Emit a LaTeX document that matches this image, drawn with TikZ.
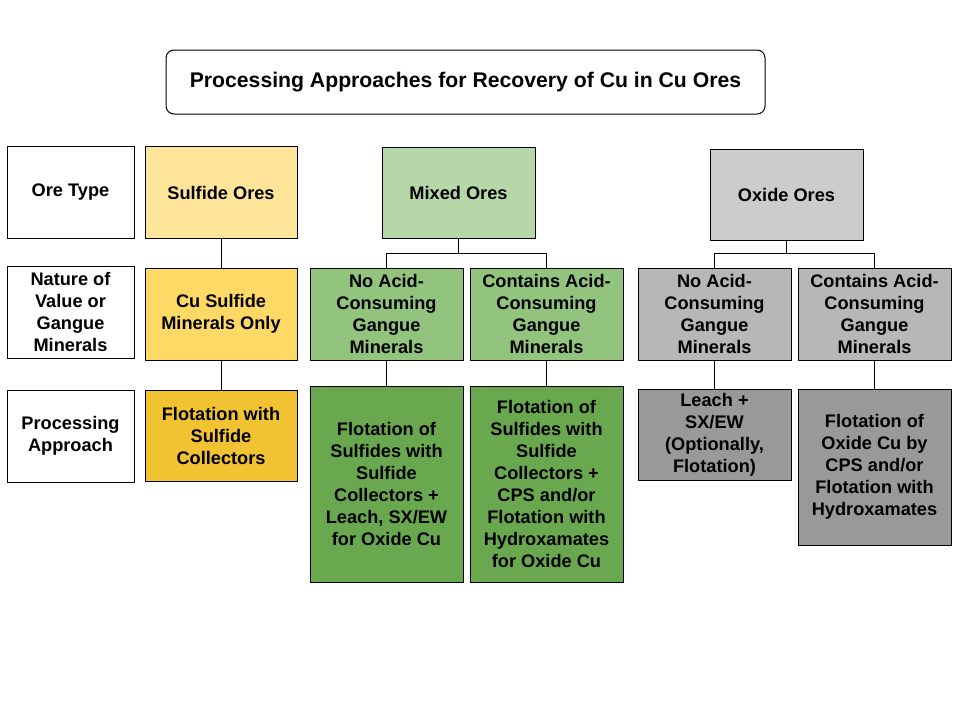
\documentclass[tikz,border=0pt]{standalone}
\usepackage{fontspec}
\setmainfont{Liberation Sans}
\definecolor{sulfFill}{HTML}{FFE599}
\definecolor{sulfMid}{HTML}{FFD966}
\definecolor{sulfDark}{HTML}{F1C232}
\definecolor{mixFill}{HTML}{B6D7A8}
\definecolor{mixMid}{HTML}{93C47D}
\definecolor{mixDark}{HTML}{6AA84F}
\definecolor{oxFill}{HTML}{CCCCCC}
\definecolor{oxMid}{HTML}{B7B7B7}
\definecolor{oxDark}{HTML}{999999}

\begin{document}
\begin{tikzpicture}[
  x=1pt,y=-1pt,
  font=\bfseries\fontsize{18.2}{22}\selectfont,
  box/.style={rectangle,draw=black,line width=1pt,inner sep=1pt,align=center,minimum width=153pt,minimum height=92pt},
  rowlabel/.style={box,fill=white,minimum width=127pt},
  sulfide/.style={box,fill=#1,minimum width=152pt},
  mixed/.style={box,fill=#1},
  oxide/.style={box,fill=#1},
  link/.style={line width=1pt,draw=black}
]
\useasboundingbox (0,0) rectangle (960,720);
% title
\node[box,rounded corners=8pt,fill=white,minimum width=599pt,minimum height=64pt,font=\bfseries\fontsize{21.2}{25}\selectfont] (title) at (465.5,82) {Processing Approaches for Recovery of Cu in Cu Ores};

% row labels
\node[rowlabel] (oretype) at (70.5,192.5) {Ore Type};
\node[rowlabel] (nature) at (70.5,312) {Nature of\\Value or\\Gangue\\Minerals};
\node[rowlabel] (approach) at (70.5,436) {Processing\\Approach};

% sulfide column
\node[sulfide=sulfFill] (sulf) at (221,192.5) {Sulfide Ores};
\node[sulfide=sulfMid] (sulfmin) at (221,314) {Cu Sulfide\\Minerals Only};
\node[sulfide=sulfDark,minimum height=91pt] (sulfflot) at (221,435.5) {Flotation with\\Sulfide\\Collectors};

% mixed column
\node[mixed=mixFill,minimum height=91pt] (mix) at (458.5,192.5) {Mixed Ores};
\node[mixed=mixMid] (mixnoacid) at (386.5,314) {No Acid-\\Consuming\\Gangue\\Minerals};
\node[mixed=mixMid] (mixacid) at (546.5,314) {Contains Acid-\\Consuming\\Gangue\\Minerals};
\node[mixed=mixDark,minimum height=196pt] (mixflot) at (386.5,484) {Flotation of\\Sulfides with\\Sulfide\\Collectors +\\Leach, SX/EW\\for Oxide Cu};
\node[mixed=mixDark,minimum height=196pt] (mixcps) at (546.5,484) {Flotation of\\Sulfides with\\Sulfide\\Collectors +\\CPS and/or\\Flotation with\\Hydroxamates\\for Oxide Cu};

% oxide column
\node[oxide=oxFill,minimum height=91pt] (ox) at (786.5,194.5) {Oxide Ores};
\node[oxide=oxMid] (oxnoacid) at (714.5,314) {No Acid-\\Consuming\\Gangue\\Minerals};
\node[oxide=oxMid] (oxacid) at (874.5,314) {Contains Acid-\\Consuming\\Gangue\\Minerals};
\node[oxide=oxDark,minimum height=91pt] (oxleach) at (714.5,434.5) {Leach +\\SX/EW\\(Optionally,\\Flotation)};
\node[oxide=oxDark,minimum height=156pt] (oxflot) at (874.5,467) {Flotation of\\Oxide Cu by\\CPS and/or\\Flotation with\\Hydroxamates};

\coordinate (mixsplit) at (458.5,253);
\coordinate (oxsplit) at (786.5,253);

\draw[link] (sulf.south) -- (sulfmin.north);
\draw[link] (sulfmin.south) -- (sulfflot.north);
\draw[link] (mix.south) -- (mixsplit) -| (mixnoacid.north);
\draw[link] (mixsplit) -| (mixacid.north);
\draw[link] (mixnoacid.south) -- (mixflot.north);
\draw[link] (mixacid.south) -- (mixcps.north);
\draw[link] (ox.south) -- (oxsplit) -| (oxnoacid.north);
\draw[link] (oxsplit) -| (oxacid.north);
\draw[link] (oxnoacid.south) -- (oxleach.north);
\draw[link] (oxacid.south) -- (oxflot.north);
\end{tikzpicture}
\end{document}
